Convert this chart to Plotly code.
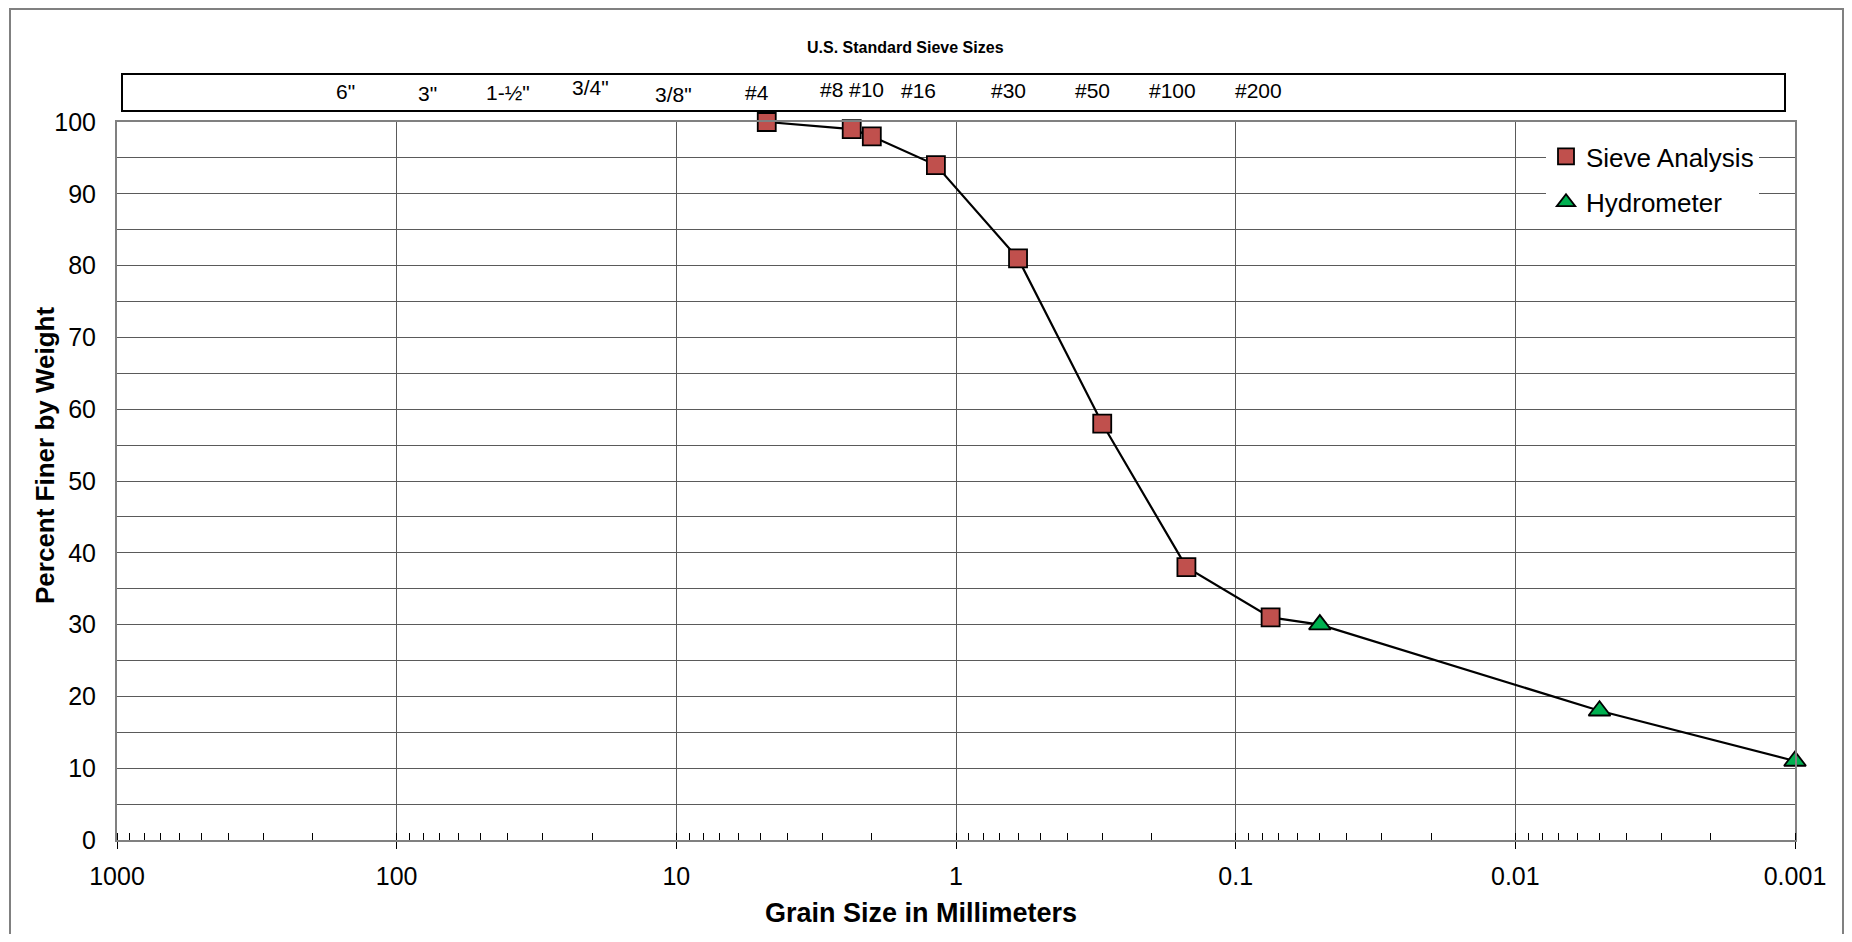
import math
import plotly.graph_objects as go

# ---- data ----
sieve_size_mm = [4.75, 2.36, 2.0, 1.18, 0.6, 0.3, 0.15, 0.075]
sieve_pct = [100, 99, 98, 94, 81, 58, 38, 31]
hydro_size_mm = [0.05, 0.005, 0.001]
hydro_pct = [30, 18, 11]

sieve_label_sizes = [152.4, 76.2, 38.1, 19.05, 9.525, 4.75, 2.36, 2.0, 1.18, 0.6, 0.3, 0.15, 0.075]
sieve_labels = ['6"', '3"', '1-½"', '3/4"', '3/8"', '#4', '#8', '#10', '#16', '#30', '#50', '#100', '#200']

x_tick_vals = [1000, 100, 10, 1, 0.1, 0.01, 0.001]
x_tick_text = ["1000", "100", "10", "1", "0.1", "0.01", "0.001"]

# ---- layout constants ----
BODY = 8  # default page margin around the figure
W, H = 1836, 926
ML, MT = 109, 114
PW, PH = 1678, 718
MR = W - ML - PW
MB = H - MT - PH
FONT = "Liberation Sans, Arial, sans-serif"
GRID = "#5a5a5a"


def px_x(px):
    """screen x pixel -> paper coordinate"""
    return (px - BODY - ML) / PW


def px_y(py):
    """screen y pixel -> paper coordinate"""
    return (H - MB - (py - BODY)) / PH


# label nudges (pixels) to mimic the hand-placed text boxes
label_xshift = [0, -2, -6, -8, -9, -10, -20, -5, -17, -10, -10, -14, -12]
label_yshift = [0, -2, -1, 4, -3, -1, 2, 2, 1, 1, 1, 1, 1]

fig = go.Figure()

# connecting line through all points
fig.add_trace(go.Scatter(
    x=sieve_size_mm + hydro_size_mm, y=sieve_pct + hydro_pct,
    mode="lines", line=dict(color="black", width=2.2), showlegend=False, hoverinfo="skip",
    cliponaxis=False))

fig.add_trace(go.Scatter(
    x=sieve_size_mm, y=sieve_pct, mode="markers", name="Sieve Analysis",
    legendgroup="a", cliponaxis=False,
    marker=dict(symbol="square", size=18, color="#C0504D", line=dict(color="black", width=1.8))))
fig.add_trace(go.Scatter(
    x=hydro_size_mm, y=hydro_pct, mode="markers", name="Hydrometer",
    legendgroup="b", cliponaxis=False,
    marker=dict(symbol="triangle-up", size=19, color="#00B050", line=dict(color="black", width=1.8))))

annotations = []
for s, lab, dx, dy in zip(sieve_label_sizes, sieve_labels, label_xshift, label_yshift):
    annotations.append(dict(
        x=math.log10(s), y=px_y(92), xref="x", yref="paper", text=lab, showarrow=False,
        xanchor="center", yanchor="middle", xshift=dx, yshift=dy,
        font=dict(family=FONT, size=21, color="black")))

annotations.append(dict(
    x=px_x(905), y=px_y(47), xref="paper", yref="paper", text="<b>U.S. Standard Sieve Sizes</b>",
    showarrow=False, xanchor="center", yanchor="middle",
    font=dict(family=FONT, size=16, color="black")))
annotations.append(dict(
    x=px_x(921), y=px_y(913), xref="paper", yref="paper", text="<b>Grain Size in Millimeters</b>",
    showarrow=False, xanchor="center", yanchor="middle",
    font=dict(family=FONT, size=27, color="black")))
annotations.append(dict(
    x=px_x(45), y=px_y(456), xref="paper", yref="paper", text="<b>Percent Finer by Weight</b>",
    showarrow=False, xanchor="center", yanchor="middle", textangle=-90,
    font=dict(family=FONT, size=26, color="black")))

shapes = [
    # outer chart border
    dict(type="rect", xref="paper", yref="paper", x0=px_x(10), x1=px_x(1843), y0=px_y(1000), y1=px_y(9),
         line=dict(color="#808080", width=2), fillcolor="rgba(0,0,0,0)", layer="below"),
    # sieve label box
    dict(type="rect", xref="paper", yref="paper", x0=px_x(122), x1=px_x(1785), y0=px_y(111), y1=px_y(74),
         line=dict(color="black", width=2), fillcolor="rgba(0,0,0,0)"),
]

fig.update_layout(
    width=W, height=H, autosize=False,
    margin=dict(l=ML, r=MR, t=MT, b=MB, pad=0),
    paper_bgcolor="white", plot_bgcolor="white",
    font=dict(family=FONT, size=25, color="black"),
    showlegend=True,
    legend=dict(x=px_x(1546), y=px_y(133), xanchor="left", yanchor="top",
                bgcolor="white", borderwidth=0, tracegroupgap=9,
                font=dict(family=FONT, size=26, color="black")),
    annotations=annotations, shapes=shapes,
)

fig.update_xaxes(
    type="log", range=[3, -3], tickvals=x_tick_vals, ticktext=x_tick_text,
    ticks="outside", ticklen=7, tickcolor="black", tickwidth=1, ticklabelstandoff=6,
    showgrid=True, gridcolor=GRID, gridwidth=1,
    showline=True, linecolor="#808080", linewidth=2, mirror=True,
    minor=dict(ticks="inside", ticklen=7, tickcolor="black", tickwidth=1, dtick="D1", showgrid=False),
    tickfont=dict(family=FONT, size=25, color="black"), zeroline=False,
)
fig.update_yaxes(
    range=[0, 100], dtick=10, tick0=0,
    ticks="outside", ticklen=14, tickcolor="rgba(0,0,0,0)",
    showgrid=True, gridcolor=GRID, gridwidth=1,
    minor=dict(dtick=5, showgrid=True, gridcolor=GRID, gridwidth=1),
    showline=True, linecolor="#808080", linewidth=2, mirror=True,
    tickfont=dict(family=FONT, size=25, color="black"), zeroline=False,
)

fig.write_html("out.html")
